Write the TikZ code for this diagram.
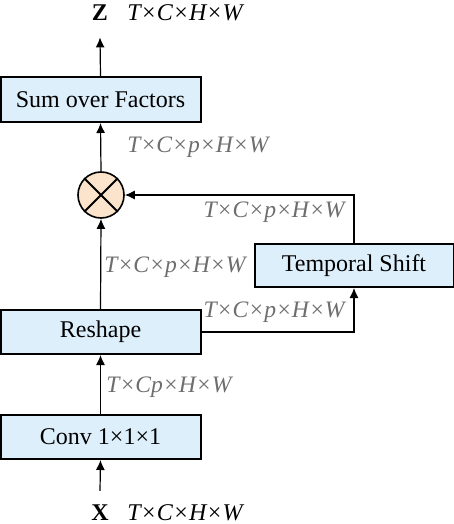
\documentclass[tikz,border=0pt]{standalone}
\usepackage{fontspec}
\setmainfont{Liberation Serif}
\usepackage{tikz}
\usetikzlibrary{arrows.meta}
\definecolor{boxblue}{HTML}{DDEFFB}
\definecolor{mulpeach}{HTML}{FCE4CC}
\definecolor{dimgray}{HTML}{6E6E6E}

\begin{document}
\begin{tikzpicture}[x=0.5pt,y=-0.5pt]
\tikzstyle{every node}+=[font=\fontsize{12}{14}\selectfont]
\tikzstyle{block}=[draw=black,line width=1pt,fill=boxblue,inner sep=0pt]
\tikzstyle{dimlabel}=[text=dimgray,font=\fontsize{11.8}{14}\selectfont\itshape,inner sep=0pt]
\tikzstyle{arr}=[line width=0.6pt,-{Latex[length=5pt,width=4.5pt]}]
\useasboundingbox (0,0) rectangle (454,524);
\node [block,minimum width=100pt,minimum height=22.5pt] (sum) at (100.5,99.5) {Sum over Factors};
\node [draw=black,line width=0.8pt,fill=mulpeach,circle,minimum size=23pt,inner sep=0pt] (mul) at (101,195) {};
\draw [line width=1pt] (mul.north west) -- (mul.south east) (mul.north east) -- (mul.south west);
\node [block,minimum width=99.5pt,minimum height=21.5pt] (shift) at (354,265.5) {Temporal Shift};
\node [block,minimum width=100pt,minimum height=22pt] (reshape) at (100.5,332) {Reshape};
\node [block,minimum width=100pt,minimum height=22pt] (conv) at (100.5,437) {Conv 1×1×1};
\node [anchor=base,inner sep=0pt] (zout) at (100,21) {\textbf{Z}};
\node [anchor=base west,inner sep=0pt] (zdim) at (127,21) {\itshape T×C×H×W};
\node [anchor=base,inner sep=0pt] (xin) at (100,520) {\textbf{X}};
\node [anchor=base west,inner sep=0pt] (xdim) at (127,520) {\itshape T×C×H×W};
% flow
\draw [arr] (xin.north) ++(0,-13) -- (conv.south);
\draw [arr] (conv.north) -- (reshape.south);
\draw [arr] (reshape.north) -- (mul.south);
\draw [arr] (reshape.east) -| (shift.south);
\draw [arr] (shift.north) |- (mul.east);
\draw [arr] (mul.north) -- (sum.south);
\draw [arr] (sum.north) -- ([yshift=-8pt]zout.south);
% sizes
\node [dimlabel,anchor=west] (l1) at (106,387) {T×Cp×H×W};
\node [dimlabel,anchor=east] (l2) at (345,312) {T×C×p×H×W};
\node [dimlabel,anchor=west] (l3) at (104,267) {T×C×p×H×W};
\node [dimlabel,anchor=east] (l4) at (345,212) {T×C×p×H×W};
\node [dimlabel,anchor=west] (l5) at (127,147) {T×C×p×H×W};
\end{tikzpicture}
\end{document}
